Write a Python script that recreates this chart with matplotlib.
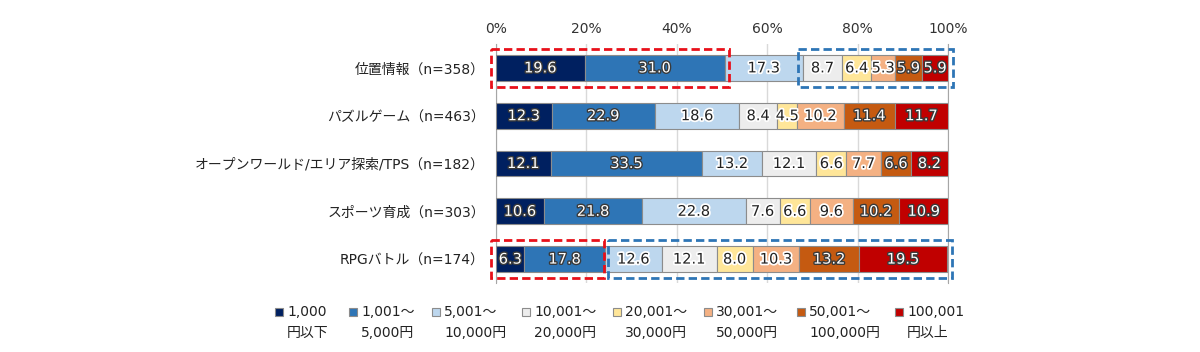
import numpy as np
import matplotlib.pyplot as plt
import matplotlib.patheffects as pe
from matplotlib.patches import Rectangle

plt.rcParams['font.family'] = ['DejaVu Sans', 'Noto Sans CJK JP']

categories = ['位置情報（n=358）', 'パズルゲーム（n=463）', 'オープンワールド/エリア探索/TPS（n=182）',
              'スポーツ育成（n=303）', 'RPGバトル（n=174）']
series = ['1,000\n円以下', '1,001～\n5,000円', '5,001～\n10,000円', '10,001～\n20,000円',
          '20,001～\n30,000円', '30,001～\n50,000円', '50,001～\n100,000円', '100,001\n円以上']
values = np.array([
    [19.6, 31.0, 17.3, 8.7, 6.4, 5.3, 5.9, 5.9],
    [12.3, 22.9, 18.6, 8.4, 4.5, 10.2, 11.4, 11.7],
    [12.1, 33.5, 13.2, 12.1, 6.6, 7.7, 6.6, 8.2],
    [10.6, 21.8, 22.8, 7.6, 6.6, 9.6, 10.2, 10.9],
    [6.3, 17.8, 12.6, 12.1, 8.0, 10.3, 13.2, 19.5],
])
colors = ['#002060', '#2E75B6', '#BDD7EE', '#EDEDED', '#FFE699', '#F4B183', '#C55A11', '#C00000']
dark = [True, True, False, False, False, False, True, True]
# highlighted groups: (row, first segment, last segment, color)
boxes = [(0, 0, 1, '#E8101A'), (0, 3, 7, '#2E75B6'), (4, 0, 1, '#E8101A'), (4, 2, 7, '#2E75B6')]

W, H = 1200, 352
fig = plt.figure(figsize=(W / 100, H / 100), dpi=100)
ax = fig.add_axes([496 / W, 1 - 283 / H, 452 / W, 239 / H])

y = np.arange(len(categories))
left = np.zeros(len(categories))
for j in range(len(series)):
    ax.barh(y, values[:, j], left=left, height=0.54, color=colors[j],
            edgecolor='#8C8C8C', linewidth=0.8, zorder=3)
    for i in range(len(categories)):
        cx = left[i] + values[i, j] / 2
        if dark[j]:
            t = ax.text(cx, y[i], f'{values[i, j]:.1f}', ha='center', va='center',
                        fontsize=10.5, color='white', zorder=5)
            t.set_path_effects([pe.withStroke(linewidth=2, foreground='#3A3A3A')])
        else:
            t = ax.text(cx, y[i], f'{values[i, j]:.1f}', ha='center', va='center',
                        fontsize=10.5, color='#222222', zorder=5)
            t.set_path_effects([pe.withStroke(linewidth=2.5, foreground='white')])
    left += values[:, j]

cum = np.hstack([np.zeros((len(categories), 1)), np.cumsum(values, axis=1)])
for r, a, b, c in boxes:
    shared_left = any(r2 == r and b2 + 1 == a for r2, a2, b2, _ in boxes)
    shared_right = any(r2 == r and a2 == b + 1 for r2, a2, b2, _ in boxes)
    x0 = cum[r, a] + (0.6 if shared_left else -1.1)
    x1 = min(cum[r, b + 1], 100) + (-0.2 if shared_right else 1.0)
    ax.add_patch(Rectangle((x0, r - 0.4), x1 - x0, 0.8, fill=False, edgecolor=c,
                           linewidth=2, linestyle=(0, (3, 1.5)), zorder=6, clip_on=False))

ax.set_xlim(0, 100)
ax.set_ylim(len(categories) - 0.5, -0.5)
ax.set_xticks([0, 20, 40, 60, 80, 100])
ax.set_xticklabels(['0%', '20%', '40%', '60%', '80%', '100%'], fontsize=10)
ax.xaxis.tick_top()
ax.tick_params(axis='x', length=0, pad=6, colors='#333333')
ax.set_yticks(y)
ax.set_yticklabels(categories, fontsize=10)
ax.tick_params(axis='y', length=0, pad=8, colors='#222222')
ax.grid(axis='x', color='#D9D9D9', linewidth=1, zorder=0)
for s in ['top', 'bottom']:
    ax.spines[s].set_visible(False)
for s in ['left', 'right']:
    ax.spines[s].set_color('#A6A6A6')

# legend, drawn by hand so the two-line labels sit like the original
leg_x = [275, 349, 432, 522, 613, 704, 797, 895]
for j, lab in enumerate(series):
    x = leg_x[j]
    fig.patches.append(Rectangle((x / W, 1 - 316 / H), 8 / W, 8 / H, transform=fig.transFigure,
                                 facecolor=colors[j], edgecolor='#8C8C8C', linewidth=0.8))
    l1, l2 = lab.split('\n')
    fig.text((x + 12) / W, 1 - 312 / H, l1, fontsize=10, va='center', ha='left', color='#222222')
    fig.text((x + 12) / W, 1 - 333 / H, l2, fontsize=10, va='center', ha='left', color='#222222')

fig.savefig('out.png', dpi=100)
